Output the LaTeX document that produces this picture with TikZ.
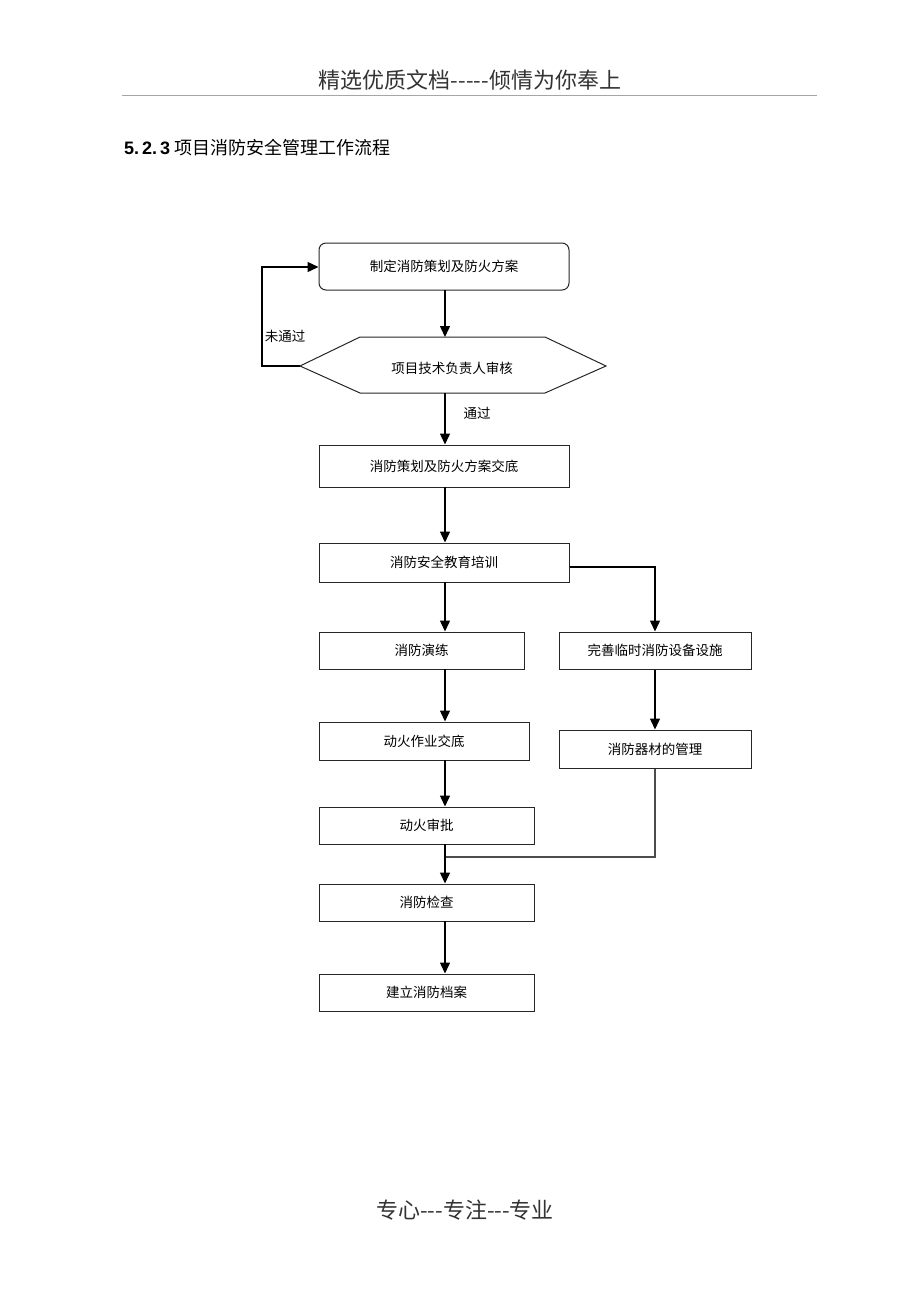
\documentclass[tikz,border=0pt]{standalone}
\usepackage{fontspec}
\setmainfont{Liberation Serif}
\newfontfamily\cjk{Noto Sans CJK SC}
\usetikzlibrary{arrows.meta}
\begin{document}
\begin{tikzpicture}[x=1pt,y=-1pt,
  box/.style={draw=black!85,line width=1pt,rectangle,inner sep=0pt,font=\cjk\fontsize{13.5}{15}\selectfont},
  conn/.style={line width=1.4pt,draw=black},
  arr/.style={conn,-{Triangle[length=11pt,width=10pt]}},
  lbl/.style={font=\cjk\fontsize{13.5}{15}\selectfont,inner sep=0pt}]
\useasboundingbox (0,0) rectangle (920,1302);
% header
\node[font=\cjk\fontsize{22}{24}\selectfont,text=black!80] (hdr) at (470,80) {精选优质文档-----倾情为你奉上};
\draw[black!35,line width=0.8pt] (122,95) -- (817,95);
\node[anchor=west,inner sep=0pt,font=\fontsize{18}{20}\selectfont] (ttl) at (124,148) {{\fontspec{Liberation Sans}\bfseries 5.\,2.\,3}\hspace{4pt}{\cjk 项目消防安全管理工作流程}};
% nodes
\node[box,rounded corners=7pt,minimum width=250pt,minimum height=47pt] (b1) at (444,266.5) {制定消防策划及防火方案};
\coordinate (hl) at (300,366);
\coordinate (hr) at (606,366);
\draw[box] (hl) -- (360,337) -- (545,337) -- (hr) -- (545,393) -- (360,393) -- cycle;
\node[lbl] (b2) at (452,368) {项目技术负责人审核};
\node[box,minimum width=250pt,minimum height=42pt] (b3) at (444,466) {消防策划及防火方案交底};
\node[box,minimum width=250pt,minimum height=39pt] (b4) at (444,562.5) {消防安全教育培训};
\node[box,minimum width=205pt,minimum height=37pt] (b5) at (421.5,650.5) {消防演练};
\node[box,minimum width=192pt,minimum height=37pt] (b6) at (655,650.5) {完善临时消防设备设施};
\node[box,minimum width=210pt,minimum height=38pt] (b7) at (424,741) {动火作业交底};
\node[box,minimum width=192pt,minimum height=38pt] (b8) at (655,749) {消防器材的管理};
\node[box,minimum width=215pt,minimum height=37pt] (b9) at (426.5,825.5) {动火审批};
\node[box,minimum width=215pt,minimum height=37pt] (b10) at (426.5,902.5) {消防检查};
\node[box,minimum width=215pt,minimum height=37pt] (b11) at (426.5,992.5) {建立消防档案};
% connectors
\draw[arr] (445,290) -- (445,337);
\coordinate (lp) at (262,366);
\draw[arr] (hl) -- (lp) -- (262,267) -- (b1.west |- 0,267);
\node[lbl] (nt) at (285,336) {未通过};
\draw[arr] (445,393) -- (b3.north -| 445,0);
\node[lbl] (pt) at (477,413) {通过};
\draw[arr] (445,487) -- (b4.north -| 445,0);
\draw[arr] (445,582) -- (b5.north -| 445,0);
\draw[arr] (b4.east |- 0,567) -- (655,567) -- (b6.north);
\draw[arr] (445,669) -- (b7.north -| 445,0);
\draw[arr] (b6.south) -- (b8.north);
\draw[arr] (445,760) -- (b9.north -| 445,0);
\coordinate (mj) at (446,857);
\draw[conn,draw=black!70,line width=1.3pt] (b8.south) -- (655,857) -- (mj);
\draw[arr] (445,844) -- (b10.north -| 445,0);
\draw[arr] (445,921) -- (b11.north -| 445,0);
% footer
\node[font=\cjk\fontsize{22}{24}\selectfont,text=black!80] (ftr) at (465,1210) {专心---专注---专业};
\end{tikzpicture}
\end{document}
